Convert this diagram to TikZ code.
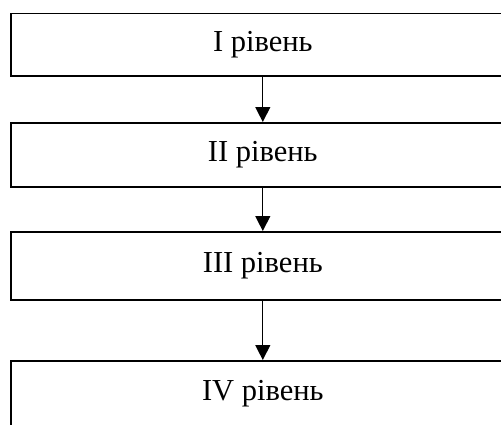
\documentclass[tikz,border=0pt]{standalone}
\usepackage{fontspec}
\setmainfont{Liberation Serif}
\usetikzlibrary{arrows.meta}
\begin{document}
\begin{tikzpicture}[x=1pt,y=-1pt,
  level/.style={draw=black,line width=1.6pt,minimum width=504pt,anchor=north west,inner sep=0pt,font=\fontsize{30.5}{32}\selectfont},
  conn/.style={line width=1.1pt,-{Triangle[width=15pt,length=15pt]}}]
\useasboundingbox (0,0) rectangle (501,424);
\node[level,minimum height=62.5pt] (a) at (10,12.5) {I рівень};
\node[level,minimum height=64pt] (b) at (10,122) {II рівень};
\node[level,minimum height=68pt] (c) at (10,231) {III рівень};
\node[level,minimum height=66pt] (d) at (10,360) {IV рівень};
\draw[conn] (a.south) -- (b.north);
\draw[conn] (b.south) -- (c.north);
\draw[conn] (c.south) -- (d.north);
\end{tikzpicture}
\end{document}
